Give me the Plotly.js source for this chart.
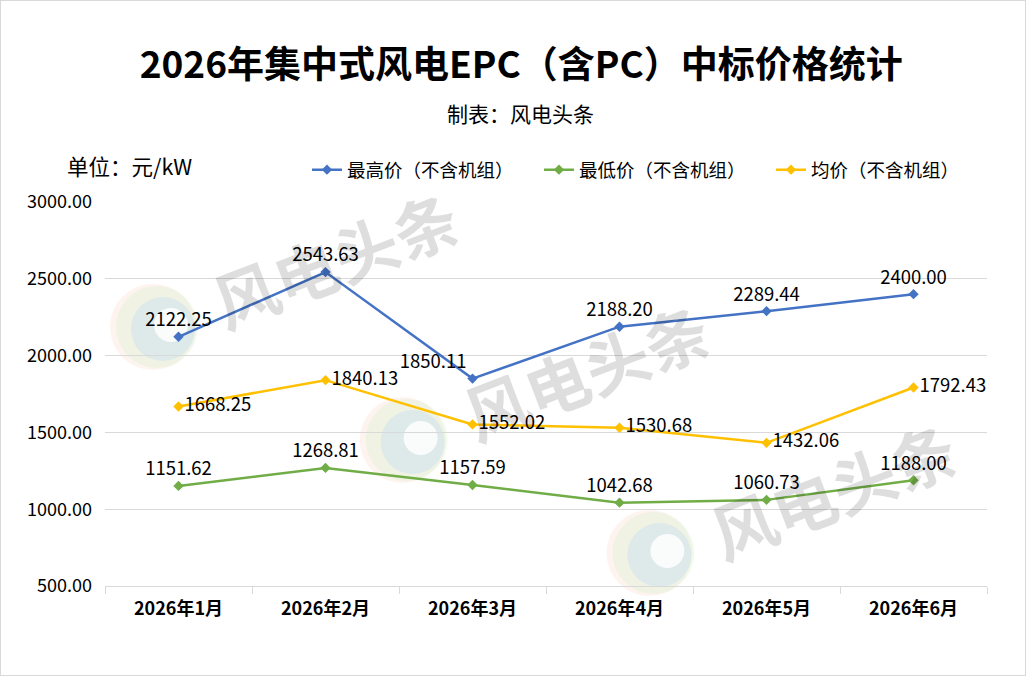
<!DOCTYPE html>
<html><head><meta charset="utf-8">
<script src="https://cdn.plot.ly/plotly-3.0.1.min.js"></script>
<style>html,body{margin:0;padding:0;background:#fff}#c{width:1024px;height:674px;border:1px solid #d9d9d9}</style>
</head><body><div id="c"></div>
<script>
const categories = ["2026年1月","2026年2月","2026年3月","2026年4月","2026年5月","2026年6月"];
const maxPrice = [2122.25, 2543.63, 1850.11, 2188.20, 2289.44, 2400.00];
const minPrice = [1151.62, 1268.81, 1157.59, 1042.68, 1060.73, 1188.00];
const avgPrice = [1668.25, 1840.13, 1552.02, 1530.68, 1432.06, 1792.43];
const seriesNames = ["最高价（不含机组）","最低价（不含机组）","均价（不含机组）"];
const yTicks = [500, 1000, 1500, 2000, 2500, 3000];

const F = '"Noto Sans CJK SC","Noto Sans",sans-serif';
const fmt = v => v.toFixed(2);
function tr(y, name, color, pos){
  return {x: categories, y: y, name: name, type:'scatter', mode:'lines+markers+text',
    line:{color:color, width:2.5}, marker:{symbol:'diamond', size:8, color:color},
    text: y.map(fmt), textposition: pos, textfont:{family:F, size:18.5, color:'#000'},
    cliponaxis:false, hoverinfo:'skip'};
}
const data = [
  tr(maxPrice, seriesNames[0], '#4472C4', ['top center','top center','top left','top center','top center','top center']),
  tr(minPrice, seriesNames[1], '#70AD47', 'top center'),
  tr(avgPrice, seriesNames[2], '#FFC000', 'middle right')
];
// plot area geometry helpers (pixel -> paper) for decorative watermark only
const PL=105, PW=883, PB=586, PH=384;
const px = v => (v-PL)/PW, py = v => (PB-v)/PH;
const wm = (x,y) => ({text:'风电头条', x:px(x), y:py(y), xref:'paper', yref:'paper', xanchor:'center', yanchor:'middle', showarrow:false,
  textangle:-21, font:{family:F, size:64, color:'rgba(0,0,0,0.13)', weight:'bold'}});
function circ(cx, cy, r, fill){
  return {type:'circle', xref:'paper', yref:'paper', layer:'below', line:{width:0}, fillcolor:fill,
    x0:px(cx-r), x1:px(cx+r), y0:py(cy+r), y1:py(cy-r)};
}
function logo(cx, cy){
  return [
    circ(cx, cy, 43, 'rgba(250,205,180,0.22)'),
    circ(cx+4, cy, 41, 'rgba(215,240,210,0.35)'),
    circ(cx+10, cy+2, 32, 'rgba(200,222,242,0.45)'),
    circ(cx+18, cy-2, 17, 'rgba(255,255,255,0.85)')
  ];
}
const layout = {
  width:1024, height:674,
  margin:{l:104, r:38, t:201, b:89},
  paper_bgcolor:'#fff', plot_bgcolor:'rgba(0,0,0,0)',
  font:{family:F, color:'#000'},
  title:{text:'<b>2026年集中式风电EPC（含PC）中标价格统计</b>', x:0.508, xanchor:'center', y:0.905, yanchor:'middle',
    font:{family:F, size:37, color:'#000'}},
  xaxis:{type:'category', range:[-0.5,5.5], tickson:'boundaries', ticks:'outside', ticklen:7, tickcolor:'#d9d9d9',
    showline:true, linecolor:'#d9d9d9', linewidth:1, showgrid:false, ticklabelstandoff:6,
    tickfont:{family:F, size:18, color:'#000', weight:'bold'}, fixedrange:true},
  yaxis:{range:[500,3000], tickvals:yTicks, ticktext:yTicks.map(fmt), showgrid:true, gridcolor:'#d9d9d9',
    zeroline:false, showline:false, ticks:'', tickfont:{family:F, size:18, color:'#000'}, ticklabelstandoff:12, fixedrange:true},
  showlegend:true,
  legend:{orientation:'h', x:0.229, xanchor:'left', y:1.083, yanchor:'middle', font:{family:F, size:18.5, color:'#000'},
    entrywidth:187, entrywidthmode:'pixels', bgcolor:'rgba(0,0,0,0)'},
  shapes:[].concat(logo(153,327), logo(403,440), logo(650,553)),
  annotations:[
    {text:'制表：风电头条', x:0.471, y:1.232, xref:'paper', yref:'paper', xanchor:'center', yanchor:'middle', showarrow:false, font:{family:F, size:21, color:'#000'}},
    {text:'单位：元/kW', x:-0.045, y:1.096, xref:'paper', yref:'paper', xanchor:'left', yanchor:'middle', showarrow:false, font:{family:F, size:21.5, color:'#000'}},
    wm(335,258), wm(587,370), wm(834,489)
  ]
};
Plotly.newPlot('c', data, layout, {displayModeBar:false, staticPlot:true});
</script></body></html>
